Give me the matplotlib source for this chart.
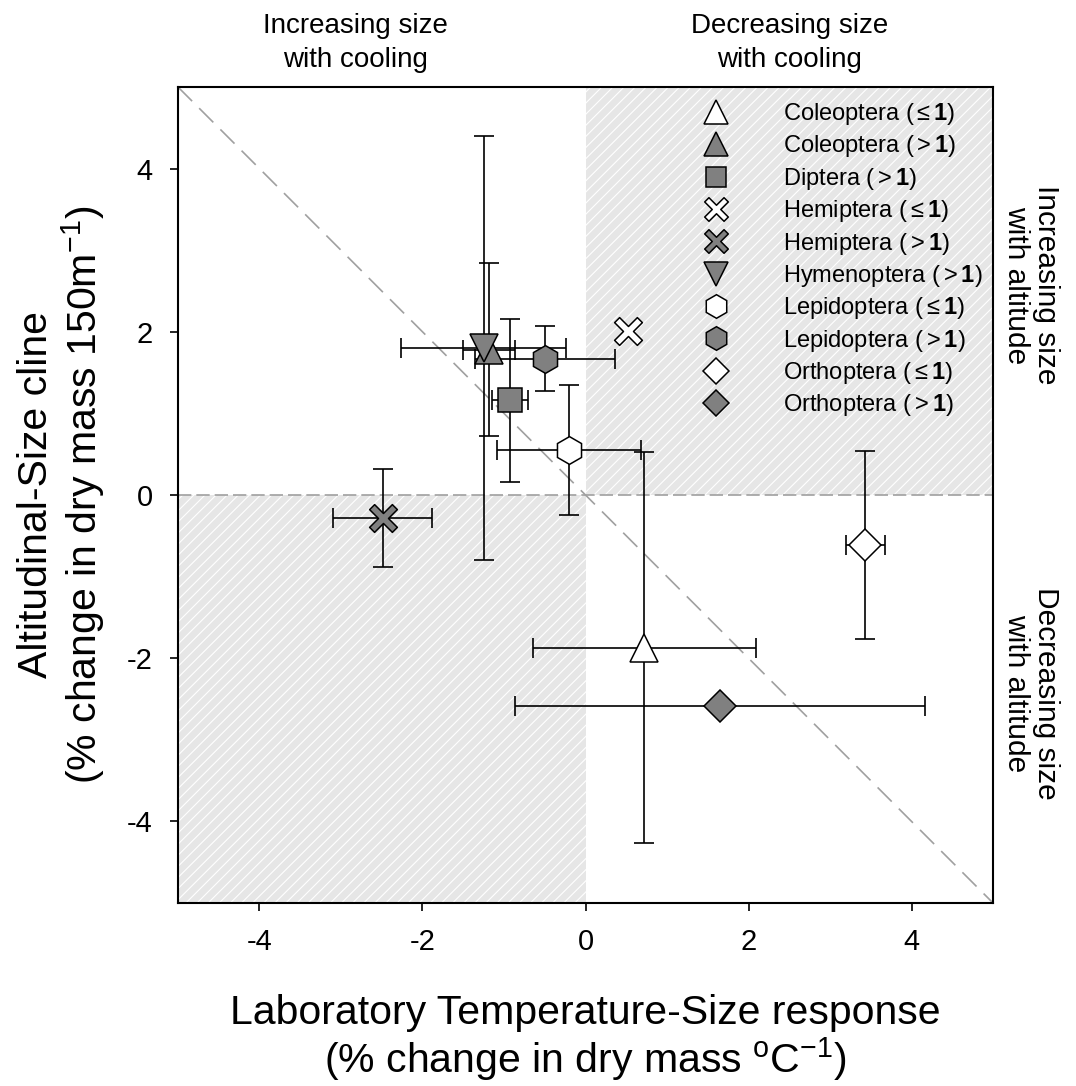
import matplotlib
matplotlib.use('Agg')
import matplotlib.pyplot as plt
import numpy as np
from matplotlib.patches import Rectangle
from matplotlib.path import Path

plt.rcParams['font.family'] = ['Liberation Sans', 'DejaVu Sans']
plt.rcParams['mathtext.fontset'] = 'custom'
plt.rcParams['mathtext.rm'] = 'Liberation Sans'
plt.rcParams['mathtext.it'] = 'Liberation Sans:italic'
plt.rcParams['mathtext.bf'] = 'Liberation Sans:bold'
plt.rcParams['axes.unicode_minus'] = False
plt.rcParams['hatch.linewidth'] = 0.8

# taxa, in legend order
taxa = ['Coleoptera', 'Coleoptera', 'Diptera', 'Hemiptera', 'Hemiptera',
        'Hymenoptera', 'Lepidoptera', 'Lepidoptera', 'Orthoptera', 'Orthoptera']
group = ['le', 'gt', 'gt', 'le', 'gt', 'gt', 'le', 'gt', 'le', 'gt']
lab_tsr = [0.72, -1.18, -0.93, 0.52, -2.49, -1.25, -0.20, -0.50, 3.43, 1.65]
lab_err = [1.37, 0.32, 0.22, np.nan, 0.61, 1.01, 0.88, 0.86, 0.24, 2.51]
alt_cline = [-1.87, 1.78, 1.16, 2.01, -0.28, 1.80, 0.55, 1.67, -0.61, -2.59]
alt_err = [2.40, 1.06, 1.00, np.nan, 0.60, 2.60, 0.80, 0.40, 1.15, np.nan]


def thin_x(w=0.11, L=0.5):
    # outlined X with narrow arms
    pts = np.array([(w, w), (w, L), (-w, L), (-w, w), (-L, w), (-L, -w),
                    (-w, -w), (-w, -L), (w, -L), (w, -w), (L, -w), (L, w), (w, w)])
    c, s = np.cos(np.pi / 4), np.sin(np.pi / 4)
    rot = pts @ np.array([[c, s], [-s, c]])
    return Path(rot, closed=True)


xmark = thin_x()
markers = ['^', '^', 's', xmark, xmark, 'v', 'h', 'h', 'D', 'D']
sizes = [20, 20, 17, 20, 20, 20, 20, 20, 16, 16]
fill = {'le': 'white', 'gt': 'grey'}
sign = {'le': r'$\leq$', 'gt': r'$>$'}
labels = [f'{t} ({sign[g]}' + r'$\mathbf{1}$)' for t, g in zip(taxa, group)]

fig = plt.figure(figsize=(10.76, 10.86), dpi=100)
ax = fig.add_axes([0.1654, 0.1685, 0.7575, 0.7514])

# shaded quadrants
for x0, y0 in [(0, 0), (-5, -5)]:
    ax.add_patch(Rectangle((x0, y0), 5, 5, facecolor='#e6e6e6', edgecolor='white',
                           hatch='///', linewidth=0, zorder=0))

ax.axhline(0, color='#a0a0a0', lw=1.2, dashes=(8, 3), zorder=1)
ax.plot([-5, 5], [5, -5], color='#a0a0a0', lw=1.2, dashes=(12, 6), zorder=1)

order = [0, 1, 2, 3, 4, 6, 7, 8, 9, 5]
handles = {}
for i in order:
    ax.errorbar(lab_tsr[i], alt_cline[i], xerr=lab_err[i], yerr=alt_err[i],
                fmt='none', ecolor='black', elinewidth=1.2, capsize=7, capthick=1.2,
                zorder=2)
    h, = ax.plot(lab_tsr[i], alt_cline[i], linestyle='none', marker=markers[i],
                 markersize=sizes[i], markerfacecolor=fill[group[i]],
                 markeredgecolor='black', markeredgewidth=1.1, zorder=3 + i * 0.01)
    handles[i] = h

ax.legend([handles[i] for i in range(10)], labels, loc='upper right',
          bbox_to_anchor=(1.0075, 1.003), frameon=False, fontsize=17,
          markerscale=0.85, handletextpad=1.85, labelspacing=0.27, borderaxespad=0.3)

ax.set_xlim(-5, 5)
ax.set_ylim(-5, 5)
ax.set_xticks([-4, -2, 0, 2, 4])
ax.set_yticks([-4, -2, 0, 2, 4])
ax.tick_params(direction='out', length=6, width=1.2, labelsize=21, pad=12,
               top=False, right=False)
for s in ax.spines.values():
    s.set_linewidth(1.5)

ax.set_xlabel('Laboratory Temperature-Size response\n'
              r'(% change in dry mass $^{\mathrm{o}}$C$^{-1}$)', fontsize=29.5,
              labelpad=27, linespacing=1.1)
ax.set_ylabel('Altitudinal-Size cline\n'
              r'(% change in dry mass 150m$^{-1}$)', fontsize=29.5,
              labelpad=14.5, linespacing=1.1)

fig.text(0.33, 0.960, 'Increasing size\nwith cooling', fontsize=20, ha='center',
         va='center', linespacing=1.4)
fig.text(0.734, 0.960, 'Decreasing size\nwith cooling', fontsize=20, ha='center',
         va='center', linespacing=1.4)
fig.text(0.958, 0.7376, 'Increasing size\nwith altitude', fontsize=21.5, ha='center',
         va='center', rotation=-90, linespacing=1.1)
fig.text(0.958, 0.3614, 'Decreasing size\nwith altitude', fontsize=21.5, ha='center',
         va='center', rotation=-90, linespacing=1.1)

fig.savefig('out.png', dpi=100)
